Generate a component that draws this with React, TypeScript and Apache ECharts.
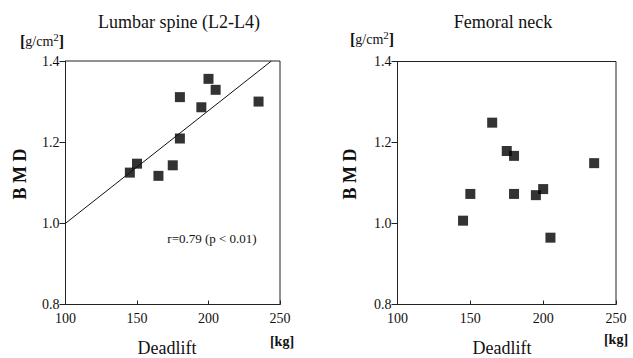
import React, { useEffect, useRef } from "react";
import * as echarts from "echarts";

const lumbarDeadlift = [145, 150, 165, 175, 180, 180, 195, 200, 205, 235];
const lumbarBMD = [1.125, 1.147, 1.117, 1.143, 1.209, 1.311, 1.286, 1.356, 1.329, 1.3];
const femoralDeadlift = [145, 150, 165, 175, 180, 180, 195, 200, 205, 235];
const femoralBMD = [1.007, 1.073, 1.249, 1.179, 1.167, 1.073, 1.07, 1.085, 0.965, 1.149];
const regressionX = [100, 244];
const regressionY = [1.0, 1.4];
const xTicks = [100, 150, 200, 250];
const yTicks = [0.8, 1.0, 1.2, 1.4];
const titles = ["Lumbar spine (L2-L4)", "Femoral neck"];
const statText = "r=0.79 (p < 0.01)";

const FONT = "Liberation Serif";

export default function App() {
  const ref = useRef<HTMLDivElement>(null);
  useEffect(() => {
    if (!ref.current) return;
    const chart = echarts.init(ref.current, null, { renderer: "svg" });
    const zip = (xs: number[], ys: number[]) => xs.map((x, i) => [x, ys[i]]);
    const xAxisCfg = (gi: number) => ({
      type: "value",
      gridIndex: gi,
      min: xTicks[0],
      max: xTicks[xTicks.length - 1],
      interval: 50,
      splitLine: { show: false },
      axisLine: { show: true, lineStyle: { color: "#222", width: 1 } },
      axisTick: { show: true, inside: true, length: 4, lineStyle: { color: "#222" } },
      axisLabel: { color: "#111", fontFamily: FONT, fontSize: 14, margin: 7 },
    });
    const yAxisCfg = (gi: number) => ({
      type: "value",
      gridIndex: gi,
      min: yTicks[0],
      max: yTicks[yTicks.length - 1],
      interval: 0.2,
      splitLine: { show: false },
      axisLine: { show: true, lineStyle: { color: "#222", width: 1 } },
      axisTick: { show: true, inside: false, length: 6, lineStyle: { color: "#222" } },
      axisLabel: {
        color: "#111",
        fontFamily: FONT,
        fontSize: 14,
        margin: 6,
        formatter: (v: number) => v.toFixed(1),
      },
    });
    const unitText = (x: number, y: number) => ({
      type: "text",
      x,
      y,
      style: {
        text: "{a|[}{b|g/cm}{s|2}{a|]}",
        textAlign: "left",
        textVerticalAlign: "middle",
        rich: {
          a: { fontFamily: FONT, fontSize: 16, fontWeight: "bold", fill: "#111" },
          b: { fontFamily: FONT, fontSize: 14, fill: "#111" },
          s: { fontFamily: FONT, fontSize: 11, fill: "#111", verticalAlign: "top", padding: [0, 0, 8, 0] },
        },
      },
    });
    const txt = (t: string, x: number, y: number, size: number, bold = false, rot = 0) => ({
      type: "text",
      x,
      y,
      rotation: rot,
      style: {
        text: t,
        fontFamily: FONT,
        fontSize: size,
        fontWeight: bold ? "bold" : "normal",
        fill: "#111",
        textAlign: "center",
        textVerticalAlign: "middle",
      },
    });
    chart.setOption({
      animation: false,
      backgroundColor: "#fff",
      grid: [
        { left: 65.5, right: 353, top: 61, bottom: 53.5, show: true, borderColor: "#222", borderWidth: 1, containLabel: false },
        { left: 397.5, right: 17, top: 61.5, bottom: 53.5, show: true, borderColor: "#222", borderWidth: 1, containLabel: false },
      ],
      xAxis: [xAxisCfg(0), xAxisCfg(1)],
      yAxis: [yAxisCfg(0), yAxisCfg(1)],
      series: [
        {
          type: "scatter",
          xAxisIndex: 0,
          yAxisIndex: 0,
          symbol: "rect",
          symbolSize: 10,
          itemStyle: { color: "#000" },
          data: zip(lumbarDeadlift, lumbarBMD),
        },
        {
          type: "line",
          xAxisIndex: 0,
          yAxisIndex: 0,
          symbol: "none",
          lineStyle: { color: "#111", width: 1 },
          data: zip(regressionX, regressionY),
        },
        {
          type: "scatter",
          xAxisIndex: 1,
          yAxisIndex: 1,
          symbol: "rect",
          symbolSize: 10,
          itemStyle: { color: "#000" },
          data: zip(femoralDeadlift, femoralBMD),
        },
      ],
      graphic: [
        txt(titles[0], 179, 22, 18),
        txt(titles[1], 503, 22, 18),
        unitText(20, 41),
        unitText(350, 39),
        txt("B M D", 20, 174, 18, true, Math.PI / 2),
        txt("B M D", 350, 174, 18, true, Math.PI / 2),
        txt("Deadlift", 167, 348, 18),
        txt("Deadlift", 502, 348, 18),
        txt("[kg]", 282, 341, 14, true),
        txt("[kg]", 616, 339, 14, true),
        txt(statText, 212, 238, 13),
      ],
    });
    return () => chart.dispose();
  }, []);
  return <div ref={ref} style={{ width: 633, height: 358, position: "absolute", left: 0, top: 0 }} />;
}
